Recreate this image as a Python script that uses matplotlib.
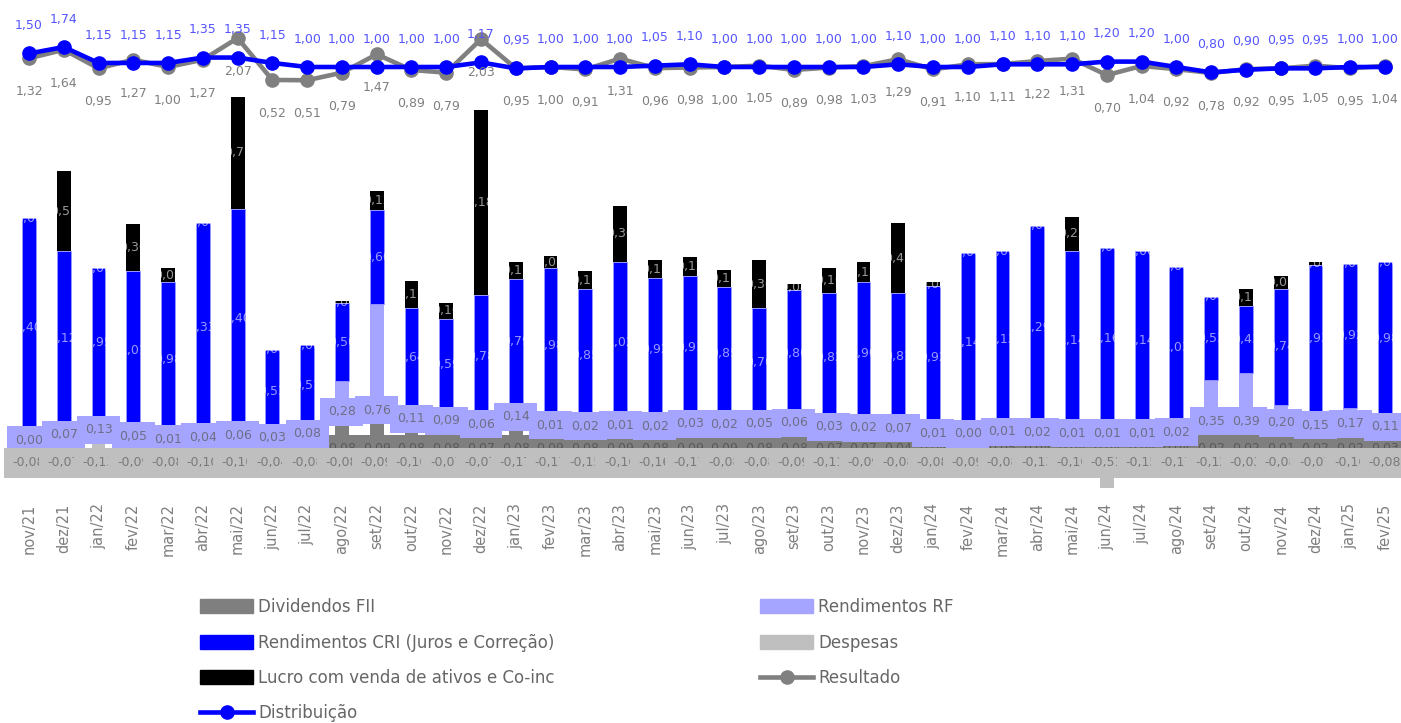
import matplotlib
matplotlib.use("Agg")
from matplotlib import pyplot as plt
from matplotlib.patches import Patch
from matplotlib.lines import Line2D
import numpy as np

months = ['nov/21', 'dez/21', 'jan/22', 'fev/22', 'mar/22', 'abr/22', 'mai/22', 'jun/22', 'jul/22',
          'ago/22', 'set/22', 'out/22', 'nov/22', 'dez/22', 'jan/23', 'fev/23', 'mar/23', 'abr/23',
          'mai/23', 'jun/23', 'jul/23', 'ago/23', 'set/23', 'out/23', 'nov/23', 'dez/23', 'jan/24',
          'fev/24', 'mar/24', 'abr/24', 'mai/24', 'jun/24', 'jul/24', 'ago/24', 'set/24', 'out/24',
          'nov/24', 'dez/24', 'jan/25', 'fev/25']

dividendos = [0, 0, 0, 0, 0, 0, 0, 0, 0, 0.08, 0.09, 0.08, 0.08,
              0.07, 0.08, 0.09, 0.08, 0.09, 0.08, 0.09, 0.09, 0.08, 0.08, 0.07, 0.07, 0.04,
              0.04, 0.04, 0.05, 0.04, 0.04, 0.04, 0.04, 0.04, 0.02, 0.02, 0.01, 0.02, 0.02, 0.03]
rend_rf = [0.00, 0.07, 0.13, 0.05, 0.01, 0.04, 0.06, 0.03, 0.08, 0.28, 0.76, 0.11, 0.09,
           0.06, 0.14, 0.01, 0.02, 0.01, 0.02, 0.03, 0.02, 0.05, 0.06, 0.03, 0.02, 0.07,
           0.01, 0.00, 0.01, 0.02, 0.01, 0.01, 0.01, 0.02, 0.35, 0.39, 0.20, 0.15, 0.17, 0.11]
rend_cri = [1.40, 1.12, 0.95, 1.01, 0.98, 1.33, 1.40, 0.53, 0.51, 0.50, 0.60, 0.64, 0.59,
            0.78, 0.79, 0.98, 0.85, 1.02, 0.92, 0.91, 0.85, 0.70, 0.80, 0.82, 0.90, 0.81,
            0.92, 1.14, 1.13, 1.29, 1.14, 1.16, 1.14, 1.03, 0.53, 0.43, 0.74, 0.93, 0.92, 0.98]
lucro = [0.00, 0.51, 0.00, 0.30, 0.09, 0.00, 0.71, 0.00, 0.00, 0.01, 0.12, 0.17, 0.10,
         1.18, 0.11, 0.08, 0.11, 0.36, 0.11, 0.12, 0.11, 0.30, 0.04, 0.16, 0.13, 0.45,
         0.02, 0.00, 0.00, 0.00, 0.22, 0.00, 0.00, 0.00, 0.00, 0.11, 0.08, 0.02, 0.00, 0.00]
despesas = [-0.08, -0.07, -0.13, -0.09, -0.08, -0.10, -0.10, -0.04, -0.08, -0.08, -0.09, -0.10, -0.07,
            -0.07, -0.17, -0.17, -0.15, -0.16, -0.16, -0.17, -0.08, -0.08, -0.09, -0.11, -0.09, -0.08,
            -0.08, -0.09, -0.08, -0.13, -0.10, -0.51, -0.15, -0.17, -0.12, -0.03, -0.08, -0.07, -0.16, -0.08]
resultado = [1.32, 1.64, 0.95, 1.27, 1.00, 1.27, 2.07, 0.52, 0.51, 0.79, 1.47, 0.89, 0.79,
             2.03, 0.95, 1.00, 0.91, 1.31, 0.96, 0.98, 1.00, 1.05, 0.89, 0.98, 1.03, 1.29,
             0.91, 1.10, 1.11, 1.22, 1.31, 0.70, 1.04, 0.92, 0.78, 0.92, 0.95, 1.05, 0.95, 1.04]
distribuicao = [1.50, 1.74, 1.15, 1.15, 1.15, 1.35, 1.35, 1.15, 1.00, 1.00, 1.00, 1.00, 1.00,
                1.17, 0.95, 1.00, 1.00, 1.00, 1.05, 1.10, 1.00, 1.00, 1.00, 1.00, 1.00, 1.10,
                1.00, 1.00, 1.10, 1.10, 1.10, 1.20, 1.20, 1.00, 0.80, 0.90, 0.95, 0.95, 1.00, 1.00]

C_DIV = '#7f7f7f'
C_CRI = '#0000ff'
C_LUC = '#000000'
C_RF = '#a5a5ff'
C_DESP = '#bfbfbf'


def fmt(v):
    return f'{v:.2f}'.replace('.', ',')


plt.rcParams['font.family'] = ['DejaVu Sans']

x = np.arange(len(months))
div = np.array(dividendos)
rf = np.array(rend_rf)
cri = np.array(rend_cri)
luc = np.array(lucro)

fig = plt.figure(figsize=(14.01, 7.23), dpi=100)
ax = fig.add_axes([0, 1 - 488 / 723, 1, 483 / 723])
w = 0.4

ax.bar(x, despesas, w, color=C_DESP, zorder=2)
ax.bar(x, div, w, color=C_DIV, zorder=2)
ax.bar(x, rf, w, bottom=div, color=C_RF, zorder=2)
ax.bar(x, cri, w, bottom=div + rf, color=C_CRI, edgecolor='#9a9aff', linewidth=0.6, zorder=2)
ax.bar(x, luc, w, bottom=div + rf + cri, color=C_LUC, zorder=2)

# labels inside the blue / black bars (white, translucent)
for i in x:
    ax.text(i, div[i] + rf[i] + cri[i] / 2, fmt(cri[i]), ha='center', va='center',
            fontsize=9, color='white', alpha=0.6, zorder=3)
    ax.text(i, div[i] + rf[i] + cri[i] + luc[i] / 2, fmt(luc[i]), ha='center', va='center',
            fontsize=9, color='white', alpha=0.6, zorder=3)

# dividend labels (mostly hidden behind the other boxes)
for i in x:
    if div[i] > 0:
        ax.text(i, -0.07, fmt(div[i]), ha='center', va='center', fontsize=9, color='#595959',
                zorder=4, bbox=dict(boxstyle='square,pad=0.6', fc=C_DIV, ec='none'))

# RF labels
for i in x:
    yy = div[i] + min(rf[i], 0.2) / 2 - 0.015
    ax.text(i, yy, fmt(rf[i]), ha='center', va='center', fontsize=9, color='#6e6e86',
            zorder=5, bbox=dict(boxstyle='square,pad=0.6', fc=C_RF, ec='none'))

# Despesas labels
for i in x:
    ax.text(i, -0.16, fmt(despesas[i]), ha='center', va='center', fontsize=9, color='#7a7a7a',
            zorder=6, bbox=dict(boxstyle='square,pad=0.7', fc=C_DESP, ec='none'))

ax.set_xlim(-0.834, 39.46)
ax.set_ylim(-0.32, 2.758)
ax.set_yticks([])
ax.set_xticks(x)
ax.set_xticklabels(months, rotation=90, fontsize=10.5, color='#7f7f7f')
ax.tick_params(axis='x', length=0, pad=11)
for s in ax.spines.values():
    s.set_visible(False)

ax2 = ax.twinx()
ax2.plot(x, resultado, color='#808080', lw=3.3, marker='o', markersize=9.5, zorder=2)
ax2.plot(x, distribuicao, color=C_CRI, lw=3.3, marker='o', markersize=9.5, zorder=3)
for i in x:
    ax2.annotate(fmt(distribuicao[i]), (i, distribuicao[i]), xytext=(0, 20), textcoords='offset points',
                 ha='center', va='center', fontsize=9, color='#5555ff')
    ax2.annotate(fmt(resultado[i]), (i, resultado[i]), xytext=(0, -24), textcoords='offset points',
                 ha='center', va='center', fontsize=9, color='#7f7f7f')
ax2.set_ylim(-14.59, 3.296)
ax2.set_yticks([])
for s in ax2.spines.values():
    s.set_visible(False)

leg_kw = dict(frameon=False, fontsize=12, labelcolor='#666666', handlelength=3.2,
              handleheight=0.9, handletextpad=0.3, labelspacing=1.05, borderpad=0, borderaxespad=0)
h1 = [Patch(color=C_DIV), Patch(color=C_CRI), Patch(color=C_LUC),
      Line2D([], [], color=C_CRI, lw=3.3, marker='o', markersize=9.5)]
l1 = ['Dividendos FII', 'Rendimentos CRI (Juros e Correção)', 'Lucro com venda de ativos e Co-inc', 'Distribuição']
h2 = [Patch(color=C_RF), Patch(color=C_DESP),
      Line2D([], [], color='#808080', lw=3.3, marker='o', markersize=9.5)]
l2 = ['Rendimentos RF', 'Despesas', 'Resultado']
fig.legend(h1, l1, loc='upper left', bbox_to_anchor=(200 / 1401, 1 - 598 / 723), **leg_kw)
fig.legend(h2, l2, loc='upper left', bbox_to_anchor=(760 / 1401, 1 - 598 / 723), **leg_kw)

fig.savefig('out.png', dpi=100)
